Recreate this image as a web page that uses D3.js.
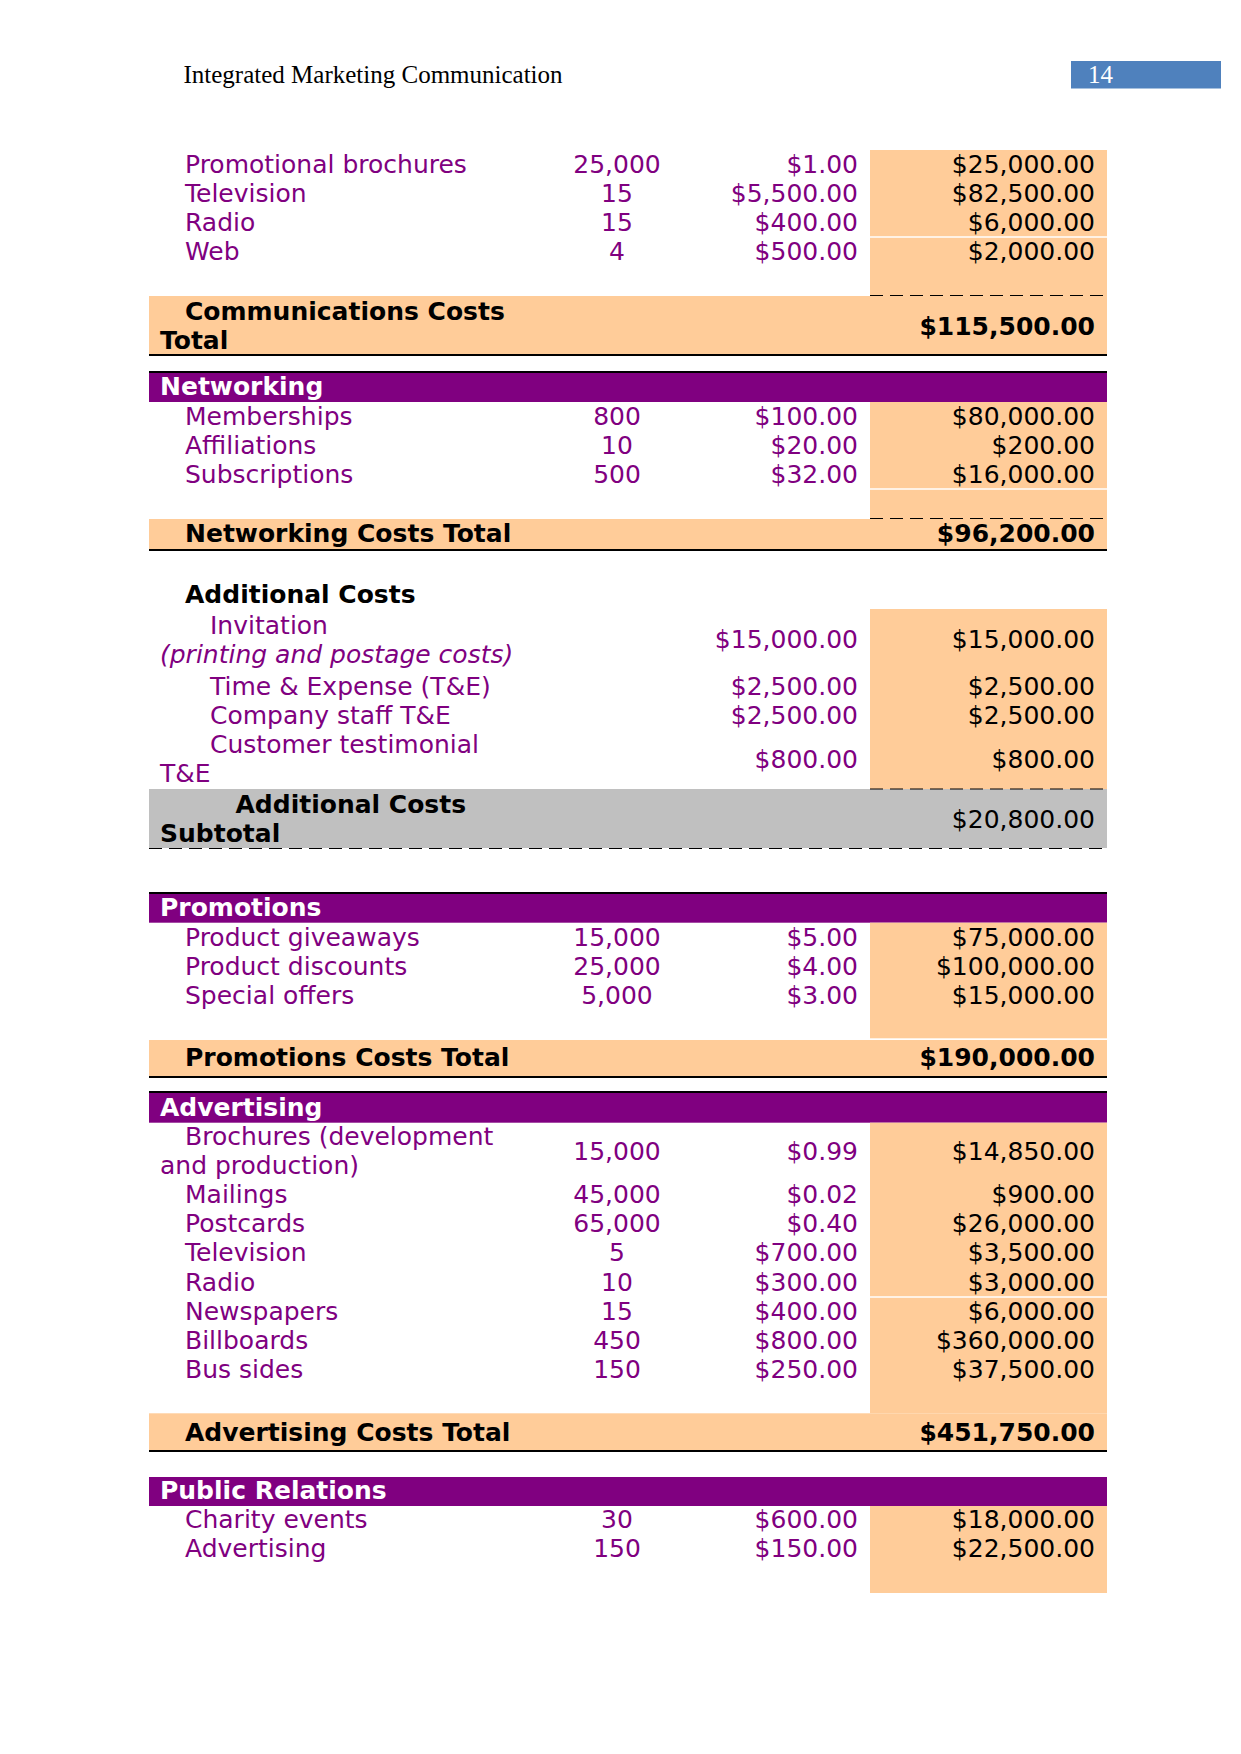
<!DOCTYPE html>
<html>
<head>
<meta charset="utf-8">
<script src="https://cdn.jsdelivr.net/npm/d3@7"></script>
<style>
html, body { margin: 0; padding: 0; background: #fff; }
svg { display: block; }
text { font-family: "DejaVu Sans", sans-serif; font-size: 25px; }
.serif { font-family: "Liberation Serif", "Times New Roman", serif; }
</style>
</head>
<body>
<script>
// page header
const headerTitle = "Integrated Marketing Communication";
const pageNumber = "14";

// communications (continued from previous page)
const commItems = [["Promotional brochures"], ["Television"], ["Radio"], ["Web"]];
const commQty = [25000, 15, 15, 4];
const commUnit = [1.00, 5500, 400, 500];
const commCost = [25000, 82500, 6000, 2000];
const commTotalLabel = ["Communications Costs", "Total"];
const commTotal = 115500;

// networking
const netTitle = "Networking";
const netItems = [["Memberships"], ["Affiliations"], ["Subscriptions"]];
const netQty = [800, 10, 500];
const netUnit = [100, 20, 32];
const netCost = [80000, 200, 16000];
const netTotalLabel = ["Networking Costs Total"];
const netTotal = 96200;

// additional costs
const addTitle = "Additional Costs";
const addItems = [["Invitation", "(printing and postage costs)"], ["Time & Expense (T&E)"],
                  ["Company staff T&E"], ["Customer testimonial", "T&E"]];
const addItalic = [true, false, false, false];
const addUnit = [15000, 2500, 2500, 800];
const addCost = [15000, 2500, 2500, 800];
const addTotalLabel = ["Additional Costs", "Subtotal"];
const addTotal = 20800;

// promotions
const promoTitle = "Promotions";
const promoItems = [["Product giveaways"], ["Product discounts"], ["Special offers"]];
const promoQty = [15000, 25000, 5000];
const promoUnit = [5, 4, 3];
const promoCost = [75000, 100000, 15000];
const promoTotalLabel = ["Promotions Costs Total"];
const promoTotal = 190000;

// advertising
const advTitle = "Advertising";
const advItems = [["Brochures (development", "and production)"], ["Mailings"], ["Postcards"], ["Television"],
                  ["Radio"], ["Newspapers"], ["Billboards"], ["Bus sides"]];
const advQty = [15000, 45000, 65000, 5, 10, 15, 450, 150];
const advUnit = [0.99, 0.02, 0.40, 700, 300, 400, 800, 250];
const advCost = [14850, 900, 26000, 3500, 3000, 6000, 360000, 37500];
const advTotalLabel = ["Advertising Costs Total"];
const advTotal = 451750;

// public relations
const prTitle = "Public Relations";
const prItems = [["Charity events"], ["Advertising"]];
const prQty = [30, 150];
const prUnit = [600, 150];
const prCost = [18000, 22500];

const purple = "#800080", orange = "#FFCC99", grey = "#C0C0C0", blue = "#4F81BD";
const fmtQty = d3.format(",");
const fmtMoney = d3.format("$,.2f");

const svg = d3.select("body").append("svg").attr("width", 1241).attr("height", 1754);
svg.append("rect").attr("width", 1241).attr("height", 1754).attr("fill", "#fff");

// table geometry
const tableX = d3.scaleLinear().domain([0, 1]).range([149, 1107]);
const col = d3.scaleOrdinal().domain(["wrap", "label", "sub", "qty", "unit", "cost", "costLeft"])
  .range([160, 185, 210, 617, 858, 1095, 870]);
const row = d3.scaleLinear().domain([0, 1]).range([0, 29.1]);

// header
svg.append("text").attr("class", "serif").attr("x", 183.5).attr("y", 83).attr("fill", "#000").text(headerTitle);
svg.append("rect").attr("x", 1071).attr("y", 61).attr("width", 150).attr("height", 27.5).attr("fill", blue);
svg.append("text").attr("class", "serif").attr("x", 1088).attr("y", 82.5).attr("fill", "#fff").text(pageNumber);

const g = svg.append("g");

function band(y0, y1, fill, full) {
  const x0 = full ? tableX(0) : col("costLeft");
  g.append("rect").attr("x", x0).attr("y", y0).attr("width", tableX(1) - x0).attr("height", y1 - y0).attr("fill", fill);
}
function hline(y, w, full, dash) {
  const x0 = full ? tableX(0) : col("costLeft");
  g.append("line").attr("x1", x0).attr("x2", tableX(1)).attr("y1", y).attr("y2", y)
    .attr("stroke", "#000").attr("stroke-width", w).attr("stroke-dasharray", dash || null);
}
function whiteLine(y) {
  g.append("line").attr("x1", col("costLeft")).attr("x2", tableX(1)).attr("y1", y).attr("y2", y)
    .attr("stroke", "#fff").attr("stroke-width", 1.5);
}
function titleBar(y0, y1, title, topLine) {
  if (topLine) hline(y0 + 1, 2.2, true);
  band(y0 + (topLine ? 2 : 0), y1, purple, true);
  g.append("text").attr("x", col("wrap")).attr("y", y1 - 7).attr("fill", "#fff").attr("font-weight", "bold").text(title);
}

// rows: items are arrays of wrapped lines; values sit on the mean baseline
function rows(items, qty, unit, cost, y0, opts) {
  opts = opts || {};
  let line = 0;
  const laid = items.map((lines, i) => {
    const ys = lines.map(() => {
      const y = y0 + row(line) + ((opts.gapAfter != null && line > opts.gapAfter) ? 3 : 0);
      line++;
      return y;
    });
    return { lines, ys, mid: d3.mean(ys), i };
  });
  const lineData = laid.flatMap(d => d.lines.map((t, k) => ({ t, k, i: d.i, y: d.ys[k] })));
  g.append("g").selectAll("text").data(lineData).join("text")
    .attr("x", d => d.k === 0 ? col(opts.indent || "label") : col("wrap"))
    .attr("y", d => d.y)
    .attr("fill", purple)
    .attr("font-style", d => (opts.italic && opts.italic[d.i] && d.k > 0) ? "italic" : null)
    .text(d => d.t);
  if (qty) {
    g.append("g").selectAll("text").data(laid).join("text")
      .attr("x", col("qty")).attr("y", d => d.mid).attr("text-anchor", "middle").attr("fill", purple)
      .text(d => fmtQty(qty[d.i]));
  }
  g.append("g").selectAll("text").data(laid).join("text")
    .attr("x", col("unit")).attr("y", d => d.mid).attr("text-anchor", "end").attr("fill", purple)
    .text(d => fmtMoney(unit[d.i]));
  g.append("g").selectAll("text").data(laid).join("text")
    .attr("x", col("cost")).attr("y", d => d.mid).attr("text-anchor", "end").attr("fill", "#000")
    .text(d => fmtMoney(cost[d.i]));
}

function totalRow(labelLines, value, y0, bold, firstX) {
  labelLines.forEach((t, k) => {
    g.append("text").attr("x", k === 0 ? firstX : col("wrap")).attr("y", y0 + row(k))
      .attr("fill", "#000").attr("font-weight", "bold").text(t);
  });
  g.append("text").attr("x", col("cost")).attr("y", y0 + row(labelLines.length - 1) / 2)
    .attr("text-anchor", "end").attr("fill", "#000").attr("font-weight", bold ? "bold" : null)
    .text(fmtMoney(value));
}

// communications
band(150, 296, orange, false);
whiteLine(237);
rows(commItems, commQty, commUnit, commCost, 172.7);
band(296, 354, orange, true);
hline(295.5, 1, false, "13,7");
hline(355, 2.2, true);
totalRow(commTotalLabel, commTotal, 320, true, col("label"));

// networking
titleBar(371, 402, netTitle, true);
band(402, 519, orange, false);
whiteLine(489);
rows(netItems, netQty, netUnit, netCost, 425);
band(519, 549, orange, true);
hline(518.5, 1, false, "13,7");
hline(550, 2.2, true);
totalRow(netTotalLabel, netTotal, 542, true, col("label"));

// additional costs
g.append("text").attr("x", col("label")).attr("y", 603).attr("fill", "#000").attr("font-weight", "bold").text(addTitle);
band(609, 789, orange, false);
rows(addItems, null, addUnit, addCost, 633.6, { indent: "sub", italic: addItalic, gapAfter: 1 });
band(789, 848, grey, true);
hline(789, 1, false, "13,7");
hline(848.5, 1, true, "13,7");
totalRow(addTotalLabel, addTotal, 813, false, 235.5);

// promotions
titleBar(892, 922.7, promoTitle, true);
band(922.7, 1038.3, orange, false);
rows(promoItems, promoQty, promoUnit, promoCost, 946);
band(1040, 1076, orange, true);
hline(1077, 2.2, true);
totalRow(promoTotalLabel, promoTotal, 1066, true, col("label"));

// advertising
titleBar(1091, 1122.7, advTitle, true);
band(1122.7, 1413.3, orange, false);
whiteLine(1297);
rows(advItems, advQty, advUnit, advCost, 1145);
band(1413.3, 1450, orange, true);
hline(1451, 2.2, true);
totalRow(advTotalLabel, advTotal, 1440.5, true, col("label"));

// public relations
titleBar(1477, 1506, prTitle, false);
band(1506, 1593, orange, false);
rows(prItems, prQty, prUnit, prCost, 1528);
</script>
</body>
</html>
